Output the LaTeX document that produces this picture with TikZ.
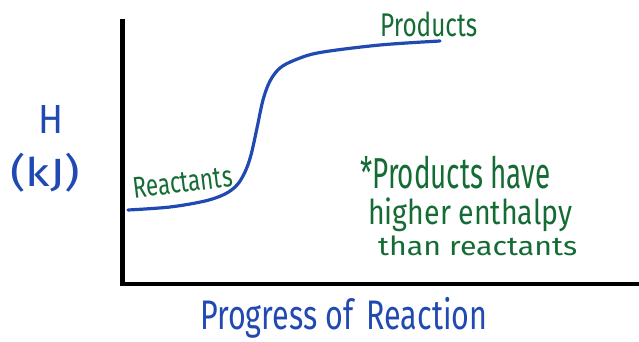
\documentclass[tikz,border=0pt]{standalone}
\usepackage{fontspec}
\setmainfont{Fira Sans}
\usepackage{graphicx}
\definecolor{inkblue}{RGB}{32,74,178}
\definecolor{inkgreen}{RGB}{20,108,52}
\tikzset{
  axisline/.style={line width=4.5pt, black},
  curveline/.style={line width=3.2pt, inkblue, line cap=round, line join=round},
  bluetext/.style={inkblue, inner sep=0pt, anchor=north west},
  greentext/.style={inkgreen, inner sep=0pt, anchor=north west},
}
% fit a line of text into a box of given width and total height
\newcommand{\fitbox}[3]{\resizebox*{#1}{#2}{#3}}
\begin{document}
\begin{tikzpicture}[x=1pt,y=-1pt]
  \useasboundingbox (0,0) rectangle (639,341);
  % axes
  \coordinate (top) at (122.5,19);
  \coordinate (origin) at (122.5,284);
  \coordinate (right) at (639,284);
  \draw[axisline] (top) -- (origin |- 0,286);
  \draw[axisline] (120.3,284) -- (right);
  % enthalpy curve
  \draw[curveline] plot[smooth, tension=0.55] coordinates {
    (128,210) (170,207) (205,201) (225,194) (237,185) (245,172)
    (251,155) (257,128) (263,100) (270,81) (280,68) (295,60)
    (320,52.5) (380,45) (440,41)};
  % axis labels
  \node[bluetext] (H) at (38,105) {\fitbox{25pt}{28pt}{H}};
  \node[bluetext] (unit) at (10,153) {\fitbox{70pt}{39pt}{(kJ)}};
  \node[bluetext] (xlabel) at (200,297) {\fitbox{287pt}{41pt}{Progress of \,Reaction}};
  % curve labels
  \node[greentext] (products) at (380,12) {\fitbox{97pt}{25pt}{Products}};
  \node[inkgreen, inner sep=0pt, rotate=7, anchor=south west] (reactants) at (134,199)
    {\fitbox{100pt}{21pt}{Reactants}};
  % note
  \node[greentext] (note1) at (360,156) {\fitbox{190pt}{33pt}{*Products have}};
  \node[greentext] (note2) at (368,198) {\fitbox{204pt}{34pt}{higher enthalpy}};
  \node[greentext] (note3) at (378,236) {\fitbox{199pt}{20pt}{than reactants}};
\end{tikzpicture}
\end{document}
